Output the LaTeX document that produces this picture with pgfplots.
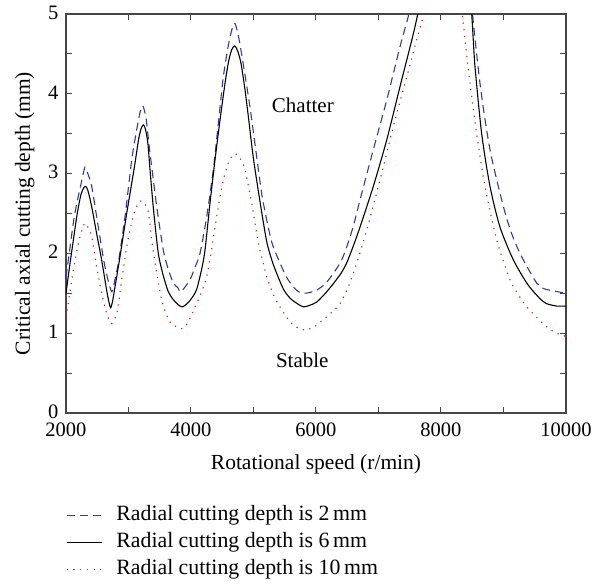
\documentclass[border=0pt]{standalone}
\usepackage{fontspec}
\setmainfont{Liberation Serif}
\usepackage{pgfplots}
\pgfplotsset{compat=1.18}
\definecolor{dblue}{RGB}{55,55,160}
\definecolor{dred}{RGB}{200,40,40}
\definecolor{axgray}{RGB}{70,70,70}
\begin{document}
\begin{tikzpicture}
\useasboundingbox (-66bp,-173bp) rectangle (526bp,413bp);
\begin{axis}[
  at={(0,0)}, anchor=south west,
  scale only axis, width=500bp, height=399bp,
  xmin=2000, xmax=10000, ymin=0, ymax=5,
  xtick={2000,4000,6000,8000,10000},
  minor xtick={3000,5000,7000,9000},
  ytick={0,1,2,3,4,5},
  minor ytick={0.5,1.5,2.5,3.5,4.5},
  tick pos=both, xticklabel pos=lower, yticklabel pos=left,
  tick align=inside,
  major tick length=6bp, minor tick length=6bp,
  every tick/.style={axgray, line width=1bp},
  axis line style={axgray, line width=1.4bp},
  /pgf/number format/assume math mode=true,
  /pgf/number format/1000 sep={},
  scaled x ticks=false,
  tick label style={font=\fontsize{20.5bp}{24bp}\selectfont},
  xticklabel style={yshift=-6.5bp},
  yticklabel style={xshift=-4bp, yshift=1.5bp},
  xlabel={Rotational speed (r/min)},
  ylabel={Critical axial cutting depth (mm)},
  every axis x label/.style={at={(axis description cs:0.5,0)}, anchor=base, yshift=-56bp,
    font=\fontsize{21.5bp}{25bp}\selectfont},
  every axis y label/.style={at={(axis description cs:-0.072,0.5)}, rotate=90, anchor=base,
    font=\fontsize{21.5bp}{25bp}\selectfont},
  legend cell align=left,
  legend image code/.code={\draw[#1] (0bp,0bp) -- (35bp,0bp);},
  legend style={at={(axis description cs:0,-0.233)}, anchor=north west, draw=none, fill=none,
    inner sep=0pt, row sep=8.6bp,
    font=\fontsize{21.8bp}{25bp}\selectfont,
    nodes={inner sep=0pt, text height=14bp, text depth=4.4bp},
    /tikz/every odd column/.style={column sep=14bp}},
]
\addplot[dblue, line width=1.1bp, dash pattern=on 8bp off 5bp, smooth, tension=0.45] coordinates {
(2000,1.70) (2060,2.05) (2117,2.38) (2170,2.62) (2224,2.81) (2270,2.98) (2304,3.08) (2340,3.02)
(2411,2.84) (2517,2.33) (2624,1.83) (2731,1.52) (2790,1.70) (2837,1.88) (2944,2.46) (3051,3.17)
(3120,3.50) (3180,3.75) (3227,3.85) (3280,3.70) (3330,3.35) (3371,3.09) (3451,2.59) (3557,2.04)
(3637,1.80) (3717,1.63) (3790,1.57) (3840,1.52) (3984,1.67) (4060,1.82) (4144,2.00) (4251,2.46)
(4357,3.05) (4440,3.65) (4517,4.21) (4600,4.62) (4660,4.82) (4704,4.88) (4760,4.72)
(4820,4.45) (4891,4.10) (4950,3.80) (5051,3.21) (5131,2.75) (5211,2.42) (5300,2.12) (5424,1.88)
(5530,1.70) (5637,1.58) (5720,1.52) (5797,1.50) (5900,1.51) (6011,1.54) (6150,1.62) (6277,1.75)
(6400,1.90) (6491,2.08) (6600,2.35) (6704,2.67) (6917,3.30) (7131,3.92) (7344,4.59) (7477,4.97)
(7530,5.15) (7900,6.0) (8400,6.0) (8470,5.27) (8624,4.13) (8784,3.30) (8997,2.59) (9130,2.25)
(9264,2.00) (9400,1.80) (9531,1.63) (9640,1.56) (9800,1.53) (10000,1.50)
};
\addlegendentry{Radial cutting depth is 2\,mm}
\addplot[black, line width=1.1bp, smooth, tension=0.45] coordinates {
(2000,1.50) (2060,1.85) (2120,2.18) (2180,2.50) (2240,2.74) (2290,2.83) (2315,2.84) (2350,2.79)
(2410,2.59) (2490,2.25) (2570,1.92) (2650,1.54) (2690,1.38) (2715,1.32) (2745,1.40) (2784,1.58)
(2864,1.96) (2971,2.50) (3077,3.00) (3104,3.13) (3160,3.42) (3200,3.56) (3237,3.61) (3270,3.56)
(3310,3.38) (3344,3.05) (3400,2.55) (3477,2.00) (3557,1.72) (3637,1.52) (3717,1.42) (3790,1.36)
(3861,1.33) (3950,1.38) (4030,1.46) (4091,1.55) (4170,1.80) (4224,2.04) (4304,2.63) (4384,3.17)
(4464,3.67) (4544,4.13) (4600,4.40) (4650,4.55) (4700,4.60) (4750,4.53) (4800,4.38) (4864,4.05)
(4920,3.70) (4997,3.20) (5104,2.65) (5211,2.15) (5300,1.90) (5371,1.75) (5480,1.55) (5584,1.44)
(5700,1.37) (5800,1.33) (5900,1.35) (6011,1.39) (6150,1.50) (6277,1.62) (6400,1.75) (6491,1.88)
(6600,2.10) (6704,2.33) (6917,2.84) (7131,3.42) (7344,4.09) (7557,4.75) (7700,5.23) (8000,6.0)
(8420,5.5) (8544,4.34) (8651,3.50) (8784,2.84) (8944,2.33) (9157,1.92) (9371,1.63) (9504,1.50)
(9600,1.42) (9691,1.37) (9850,1.34) (10000,1.34)
};
\addlegendentry{Radial cutting depth is 6\,mm}
\addplot[dred, line width=1.2bp, dash pattern=on 1.2bp off 5.5bp, smooth, tension=0.45] coordinates {
(2000,1.20) (2060,1.50) (2117,1.79) (2170,2.02) (2224,2.21) (2270,2.33) (2304,2.38) (2350,2.33)
(2411,2.21) (2491,1.83) (2571,1.50) (2651,1.25) (2700,1.15) (2731,1.12) (2770,1.17) (2821,1.27)
(2891,1.67) (2971,2.08) (3040,2.35) (3104,2.54) (3160,2.63) (3211,2.66) (3260,2.62) (3317,2.52)
(3371,2.17) (3451,1.75) (3531,1.42) (3600,1.25) (3664,1.14) (3770,1.08) (3877,1.06) (3960,1.15)
(4050,1.30) (4150,1.48) (4251,1.71) (4330,2.05) (4411,2.46) (4480,2.78) (4544,3.00) (4620,3.18)
(4704,3.25) (4780,3.20) (4864,3.05) (4971,2.63) (5077,2.13) (5150,1.90) (5211,1.71) (5320,1.48)
(5424,1.33) (5530,1.20) (5637,1.10) (5730,1.06) (5824,1.04) (5920,1.06) (6011,1.10) (6117,1.17)
(6250,1.26) (6384,1.37) (6500,1.55) (6597,1.75) (6700,2.00) (6811,2.29) (7024,2.92) (7237,3.59)
(7451,4.21) (7637,4.75) (7717,4.97) (7760,5.10) (8000,6.0) (8300,5.20) (8384,4.67) (8464,4.13)
(8571,3.50) (8704,2.84) (8891,2.17) (9104,1.67) (9240,1.48) (9371,1.33) (9530,1.20) (9691,1.08)
(9850,1.00) (10000,0.96)
};
\addlegendentry{Radial cutting depth is 10\,mm}
\node[font=\fontsize{21bp}{25bp}\selectfont] at (axis cs:5790,3.86) {Chatter};
\node[font=\fontsize{21bp}{25bp}\selectfont] at (axis cs:5780,0.66) {Stable};
\end{axis}
\end{tikzpicture}
\end{document}
